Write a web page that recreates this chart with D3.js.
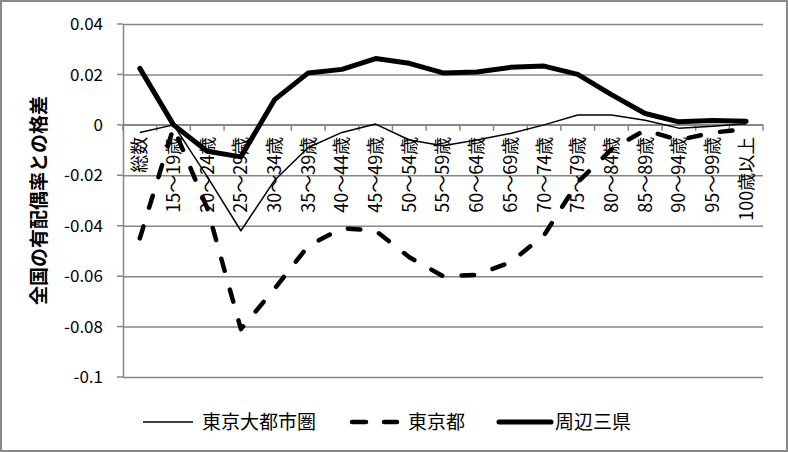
<!DOCTYPE html>
<html>
<head>
<meta charset="utf-8">
<script src="https://cdn.jsdelivr.net/npm/d3@7"></script>
<style>
  html, body { margin: 0; padding: 0; background: #fff; }
  svg { display: block; font-family: "Noto Sans CJK JP", sans-serif; }
</style>
</head>
<body>
<div id="chart"></div>
<script>
// categories and series
const categories = ['総数', '15～19歳', '20～24歳', '25～29歳', '30～34歳', '35～39歳', '40～44歳',
  '45～49歳', '50～54歳', '55～59歳', '60～64歳', '65～69歳', '70～74歳', '75～79歳',
  '80～84歳', '85～89歳', '90～94歳', '95～99歳', '100歳以上'];

const metroValues = [-0.003, 0, -0.0205, -0.042, -0.022, -0.009, -0.003, 0.0003, -0.006, -0.0083,
  -0.006, -0.0034, 0, 0.0039, 0.0039, 0.0018, -0.0013, -0.0006, 0.0004];
const tokyoValues = [-0.045, -0.001, -0.033, -0.081, -0.065, -0.048, -0.041, -0.042, -0.0525, -0.060,
  -0.0595, -0.0545, -0.0438, -0.0228, -0.0097, -0.0021, -0.006, -0.0031, -0.0017];
const threeValues = [0.0224, 0, -0.0105, -0.0127, 0.010, 0.0206, 0.022, 0.0263, 0.0244, 0.0206,
  0.021, 0.0228, 0.0233, 0.020, 0.012, 0.0045, 0.0012, 0.0017, 0.0014];

const yTicks = [0.04, 0.02, 0, -0.02, -0.04, -0.06, -0.08, -0.1];
const yTitle = '全国の有配偶率との格差';

const series = [
  { name: '東京大都市圏', values: metroValues },
  { name: '東京都', values: tokyoValues },
  { name: '周辺三県', values: threeValues }
];

const width = 788, height = 452;
const margin = { top: 24, right: 25, bottom: 75, left: 123 };
const gridColor = '#868686';

const svg = d3.select('#chart').append('svg')
  .attr('width', width)
  .attr('height', height);

svg.append('rect')
  .attr('x', 1).attr('y', 1)
  .attr('width', width - 2).attr('height', height - 2)
  .attr('fill', '#fff')
  .attr('stroke', '#898989')
  .attr('stroke-width', 2);

const x = d3.scaleBand()
  .domain(categories)
  .range([margin.left, width - margin.right]);

const y = d3.scaleLinear()
  .domain([-0.1, 0.04])
  .range([height - margin.bottom, margin.top]);

const cx = d => x(d) + x.bandwidth() / 2;

// horizontal gridlines + y axis
svg.append('g')
  .attr('transform', `translate(${margin.left},0)`)
  .call(d3.axisLeft(y).tickValues(yTicks).tickSize(-(width - margin.left - margin.right)).tickSizeOuter(0)
    .tickFormat(d => d === 0 ? '0' : d3.format('')(+d.toFixed(2))))
  .call(g => g.select('.domain').attr('stroke', gridColor).attr('stroke-width', 1.5))
  .call(g => g.selectAll('.tick line').attr('stroke', gridColor).attr('stroke-width', 1.5))
  .call(g => g.selectAll('.tick text').remove());

// small outer ticks on the left
svg.append('g')
  .selectAll('line')
  .data(yTicks)
  .join('line')
  .attr('x1', margin.left - 6).attr('x2', margin.left)
  .attr('y1', d => y(d)).attr('y2', d => y(d))
  .attr('stroke', gridColor).attr('stroke-width', 1.5);

svg.append('g')
  .selectAll('text')
  .data(yTicks)
  .join('text')
  .attr('x', 103)
  .attr('y', d => y(d))
  .attr('dy', '0.36em')
  .attr('text-anchor', 'end')
  .attr('font-size', 17)
  .attr('fill', '#000')
  .text(d => d === 0 ? '0' : String(+d.toFixed(2)));

// category axis at y = 0
const zeroY = y(0);
svg.append('line')
  .attr('x1', margin.left).attr('x2', width - margin.right)
  .attr('y1', zeroY).attr('y2', zeroY)
  .attr('stroke', gridColor).attr('stroke-width', 1.5);

const boundaries = categories.map(c => x(c)).concat([x.range()[1]]);
svg.append('g')
  .selectAll('line')
  .data(boundaries)
  .join('line')
  .attr('x1', d => d).attr('x2', d => d)
  .attr('y1', zeroY).attr('y2', zeroY + 6)
  .attr('stroke', gridColor).attr('stroke-width', 1.5);

svg.append('g')
  .selectAll('text')
  .data(categories)
  .join('text')
  .attr('transform', d => `translate(${cx(d)},${zeroY + 12}) rotate(-90)`)
  .attr('text-anchor', 'end')
  .attr('dy', '0.36em')
  .attr('font-size', 18)
  .attr('fill', '#000')
  .text(d => d);

// y axis title
svg.append('text')
  .attr('transform', `translate(39,${(margin.top + height - margin.bottom) / 2}) rotate(-90)`)
  .attr('text-anchor', 'middle')
  .attr('dy', '0.36em')
  .attr('font-size', 19)
  .attr('font-weight', 'bold')
  .attr('fill', '#000')
  .text(yTitle);

// lines
const line = d3.line()
  .x((d, i) => cx(categories[i]))
  .y(d => y(d));

const styles = [
  { width: 1.5, dash: null, cap: 'butt' },
  { width: 4.5, dash: '12.5,19.5', cap: 'round' },
  { width: 5, dash: null, cap: 'round' }
];

series.forEach((s, i) => {
  svg.append('path')
    .datum(s.values)
    .attr('fill', 'none')
    .attr('stroke', '#000')
    .attr('stroke-width', styles[i].width)
    .attr('stroke-dasharray', styles[i].dash)
    .attr('stroke-linecap', styles[i].cap)
    .attr('stroke-linejoin', 'round')
    .attr('d', line);
});

// legend
const legendY = 422;
const legendItems = [
  { x1: 143, x2: 193, tx: 202 },
  { x1: 352, x2: 397, tx: 408 },
  { x1: 499, x2: 551, tx: 555 }
];

series.forEach((s, i) => {
  const it = legendItems[i];
  svg.append('line')
    .attr('x1', it.x1).attr('x2', it.x2)
    .attr('y1', legendY).attr('y2', legendY)
    .attr('stroke', '#000')
    .attr('stroke-width', styles[i].width)
    .attr('stroke-dasharray', i === 1 ? '14,18' : null)
    .attr('stroke-linecap', styles[i].cap);
  svg.append('text')
    .attr('x', it.tx)
    .attr('y', legendY)
    .attr('dy', '0.36em')
    .attr('font-size', 19)
    .attr('fill', '#000')
    .text(s.name);
});
</script>
</body>
</html>
